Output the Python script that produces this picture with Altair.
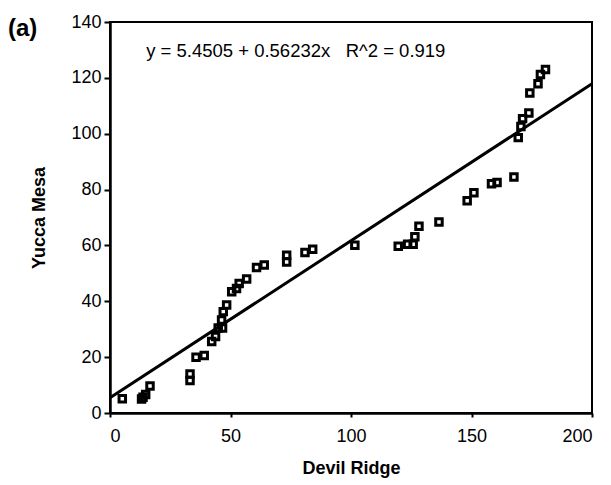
import altair as alt
import pandas as pd

devil_ridge = [5.1, 13.1, 13.7, 14.8, 16.6, 33.2, 33.2, 35.7, 39.1, 42.2, 43.8, 44.9,
               46.7, 46.3, 47.0, 48.4, 50.5, 52.5, 53.6, 56.7, 60.8, 64.0, 73.3, 73.3,
               80.9, 84.1, 101.6, 119.6, 123.5, 125.8, 126.5, 128.2, 136.5, 148.2, 151.0,
               158.3, 160.6, 167.6, 169.4, 170.5, 171.2, 173.8, 174.2, 177.6, 178.6, 180.7]
yucca_mesa = [5.1, 5.0, 5.6, 6.6, 9.7, 11.6, 14.0, 20.0, 20.6, 25.6, 27.4, 30.4,
              30.4, 33.3, 36.3, 38.7, 43.4, 44.6, 46.4, 48.0, 52.1, 53.0, 54.1, 56.5,
              57.5, 58.6, 60.1, 59.7, 60.4, 60.4, 63.1, 66.9, 68.4, 76.0, 78.9,
              82.1, 82.5, 84.5, 98.6, 102.6, 105.4, 107.4, 114.6, 117.9, 121.2, 123.0]

intercept = 5.4505
slope = 0.56232
r2 = 0.919
line_x = [0, 200]

pts = pd.DataFrame({"x": devil_ridge, "y": yucca_mesa})
line = pd.DataFrame({"x": line_x, "y": [intercept + slope * v for v in line_x]})
sp = "\u00a0\u00a0\u00a0"
eq = pd.DataFrame({"x": [15], "y": [127.4],
                   "t": [f"y = {intercept} + {slope}x{sp}R^2 = {r2}"]})

FONT = "Liberation Sans"

xs = alt.Scale(domain=[0, 200], nice=False, zero=False)
ys = alt.Scale(domain=[0, 140], nice=False, zero=False)

xax = alt.Axis(title="Devil Ridge", values=[0, 50, 100, 150, 200], grid=False,
               tickSize=4, labelPadding=10, titlePadding=14)
yax = alt.Axis(title="Yucca Mesa", values=list(range(0, 141, 10)), grid=False,
               labelExpr="datum.value % 20 == 0 ? datum.label : ''",
               tickSize=6, labelPadding=3, titlePadding=22)

points = alt.Chart(pts).mark_point(shape="square", filled=False, color="black",
                                   strokeWidth=3, size=42, opacity=1).encode(
    x=alt.X("x:Q", scale=xs, axis=xax),
    y=alt.Y("y:Q", scale=ys, axis=yax),
)

reg = alt.Chart(line).mark_line(color="black", strokeWidth=3).encode(
    x=alt.X("x:Q", scale=xs),
    y=alt.Y("y:Q", scale=ys),
)

txt = alt.Chart(eq).mark_text(align="left", baseline="alphabetic", fontSize=18.5,
                              font=FONT, color="black").encode(
    x=alt.X("x:Q", scale=xs),
    y=alt.Y("y:Q", scale=ys),
    text="t:N",
)

panel = alt.Chart(pd.DataFrame({"t": ["(a)"]})).mark_text(
    align="left", baseline="alphabetic", fontSize=24, fontWeight="bold",
    font=FONT, color="black").encode(
    x=alt.value(-102), y=alt.value(14), text="t:N")

chart = alt.layer(reg, points, txt, panel).properties(
    width=482, height=391,
    autosize=alt.AutoSizeParams(type="none"),
    padding={"left": 110, "top": 22, "right": 19, "bottom": 72},
).configure_view(stroke="black", strokeWidth=2).configure_axis(
    domainColor="black", domainWidth=2.5, tickColor="black", tickWidth=2,
    labelColor="black", labelFont=FONT, labelFontSize=18,
    titleColor="black", titleFont=FONT, titleFontSize=18, titleFontWeight="bold",
)

chart.save("out.html", embed_options={"renderer": "svg", "actions": False})
